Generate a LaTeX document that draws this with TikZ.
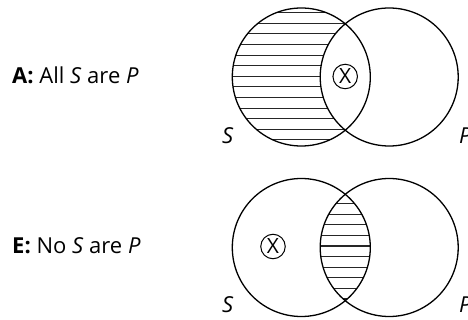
\documentclass[tikz,border=0pt]{standalone}
\usepackage{fontspec}
\setmainfont{Open Sans}
\begin{document}
\begin{tikzpicture}[x=1pt,y=-1pt,
  ring/.style={draw=black,line width=1.3pt},
  hatch/.style={draw=black!85,line width=1.1pt},
  lbl/.style={anchor=base west,inner sep=0pt,font=\fontsize{22}{26}\selectfont},
  xmark/.style={circle,draw=black,line width=1pt,minimum size=24.5pt,inner sep=0pt,font=\fontsize{21}{24}\selectfont}]
\useasboundingbox (0,0) rectangle (468,320);
% ---------- A diagram ----------
\coordinate (aS) at (301.3,77);
\coordinate (aP) at (389.2,77);
\begin{scope}
  \clip (aS) circle (69);
  \foreach \k in {-7,...,7}
    \draw[hatch] ([shift={(-80,\k*10.6-0.7)}]aS) -- ([shift={(80,\k*10.6-0.7)}]aS);
\end{scope}
\fill[white] (aP) circle (69);
\draw[ring] (aS) circle (69);
\draw[ring] (aP) circle (69);
\node[xmark] (ax) at (345.2,76.5) {X};
\node[lbl] (atxt) at (12,84) {\textbf{A:} All \textit{S} are \textit{P}};
\node[lbl] (aSl) at (222,144) {\textit{S}};
\node[lbl] (aPl) at (459,144) {\textit{P}};
% ---------- E diagram ----------
\coordinate (eS) at (301.3,247.5);
\coordinate (eP) at (389.2,247.5);
\begin{scope}
  \clip (eS) circle (69);
  \clip (eP) circle (69);
  \foreach \k in {-7,...,7}
    \draw[hatch] ([shift={(-80,\k*10.6-1.5)}]eS) -- ([shift={(170,\k*10.6-1.5)}]eS);
\end{scope}
\draw[ring] (eS) circle (69);
\draw[ring] (eP) circle (69);
\node[xmark] (ex) at (273,246.5) {X};
\node[lbl] (etxt) at (12,254) {\textbf{E:} No \textit{S} are \textit{P}};
\node[lbl] (eSl) at (222,312) {\textit{S}};
\node[lbl] (ePl) at (459,312) {\textit{P}};
\end{tikzpicture}
\end{document}
